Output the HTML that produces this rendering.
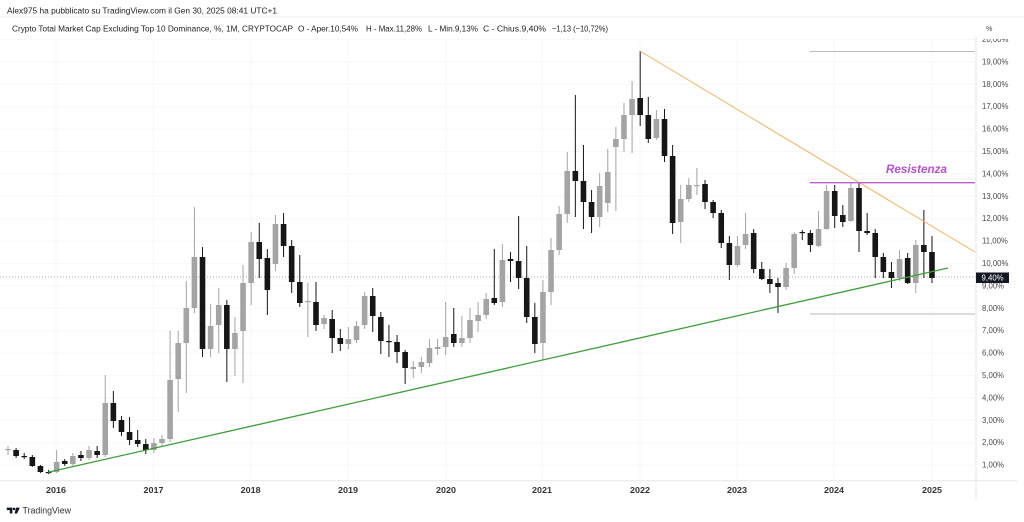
<!DOCTYPE html>
<html><head><meta charset="utf-8"><style>
html,body{margin:0;padding:0;background:#fff;}
svg{display:block;font-family:"Liberation Sans",Arial,sans-serif;}
</style></head><body>
<svg id="c" width="1024" height="522" viewBox="0 0 1024 522" xmlns="http://www.w3.org/2000/svg">
<rect width="1024" height="522" fill="#fff"/>
<!-- header -->
<text x="7" y="10.7" dominant-baseline="central" font-size="8.6" fill="#222" textLength="270" lengthAdjust="spacingAndGlyphs">Alex975 ha pubblicato su TradingView.com il Gen 30, 2025 08:41 UTC+1</text>
<line x1="0" y1="17" x2="1024" y2="17" stroke="#efefef" stroke-width="1"/>
<g font-size="8.6" fill="#222" dominant-baseline="central">
<text x="12" y="28.7" textLength="281" lengthAdjust="spacingAndGlyphs">Crypto Total Market Cap Excluding Top 10 Dominance, %, 1M, CRYPTOCAP</text>
<text x="298" y="28.7" textLength="60" lengthAdjust="spacingAndGlyphs">O - Aper.10,54%</text>
<text x="366" y="28.7" textLength="56" lengthAdjust="spacingAndGlyphs">H - Max.11,28%</text>
<text x="428" y="28.7" textLength="50" lengthAdjust="spacingAndGlyphs">L - Min.9,13%</text>
<text x="483" y="28.7" textLength="63" lengthAdjust="spacingAndGlyphs">C - Chius.9,40%</text>
<text x="552" y="28.7" textLength="56" lengthAdjust="spacingAndGlyphs">−1,13 (−10,72%)</text>
</g>
<!-- grid -->
<g id="grid" stroke="#f7f7f7" stroke-width="1"></g>
<!-- axes frame -->
<line x1="976" y1="37" x2="976" y2="500" stroke="#e6e6e6" stroke-width="1"/>
<line x1="0" y1="480.7" x2="1017" y2="480.7" stroke="#e6e6e6" stroke-width="1"/>
<text x="986" y="28.5" dominant-baseline="central" font-size="7.2" fill="#444">%</text>
<defs><clipPath id="axclip"><rect x="977" y="39" width="47" height="441"/></clipPath></defs>
<g id="yax" font-size="7.8" fill="#4a4a4a" clip-path="url(#axclip)"></g>
<!-- x axis labels -->
<g font-size="8.6" font-weight="bold" fill="#333" text-anchor="middle" dominant-baseline="central">
<text x="56" y="490" textLength="20" lengthAdjust="spacingAndGlyphs">2016</text>
<text x="153.5" y="490" textLength="20" lengthAdjust="spacingAndGlyphs">2017</text>
<text x="250.7" y="490" textLength="20" lengthAdjust="spacingAndGlyphs">2018</text>
<text x="348" y="490" textLength="20" lengthAdjust="spacingAndGlyphs">2019</text>
<text x="446" y="490" textLength="20" lengthAdjust="spacingAndGlyphs">2020</text>
<text x="542" y="490" textLength="20" lengthAdjust="spacingAndGlyphs">2021</text>
<text x="640" y="490" textLength="20" lengthAdjust="spacingAndGlyphs">2022</text>
<text x="737" y="490" textLength="20" lengthAdjust="spacingAndGlyphs">2023</text>
<text x="834" y="490" textLength="20" lengthAdjust="spacingAndGlyphs">2024</text>
<text x="932" y="490" textLength="20" lengthAdjust="spacingAndGlyphs">2025</text>
</g>
<!-- dotted current price line -->
<line x1="0" y1="277" x2="976" y2="277" stroke="#8a8d96" stroke-width="0.8" stroke-dasharray="1,2"/>
<!-- reference gray lines -->
<line x1="810" y1="51.5" x2="975" y2="51.5" stroke="#b9b9b9" stroke-width="1"/>
<line x1="810" y1="314" x2="975" y2="314" stroke="#b9b9b9" stroke-width="1"/>
<!-- candles -->
<g id="candles"></g>
<!-- trendlines -->
<line x1="640" y1="51" x2="975" y2="252" stroke="#f6b060" stroke-width="1"/>
<line x1="48" y1="472.3" x2="948" y2="268" stroke="#3f9e3a" stroke-width="1.3"/>
<line x1="810" y1="182.7" x2="975" y2="182.7" stroke="#c25bd6" stroke-width="1.4"/>
<text x="886" y="169" dominant-baseline="central" font-size="12" font-weight="bold" font-style="italic" fill="#b552cf" textLength="61" lengthAdjust="spacingAndGlyphs">Resistenza</text>
<!-- price label -->
<rect x="976" y="272.5" width="33" height="10.5" fill="#131722"/>
<text x="981.5" y="277.8" dominant-baseline="central" font-size="7.8" fill="#fff">9,40%</text>
<!-- logo -->
<g fill="#131722">
<path d="M6.8 507.6 h5.6 v5.9 h-2.6 v-3.4 h-3 z"/>
<circle cx="14.1" cy="508.9" r="1.3"/>
<path d="M16.2 507.6 h3.6 l-2.7 5.9 h-2.6 z"/>
</g>
<text x="22.5" y="510.7" dominant-baseline="central" font-size="9.2" fill="#333" textLength="48.5" lengthAdjust="spacingAndGlyphs">TradingView</text>
</svg>
<script>
(function(){
var NS="http://www.w3.org/2000/svg";
function el(t,a,p){var e=document.createElementNS(NS,t);for(var k in a)e.setAttribute(k,a[k]);p.appendChild(e);return e;}
var yv=function(v){return 263.5-(v-10)*22.4;};
var yax=document.getElementById('yax'), grid=document.getElementById('grid');
for(var v=20;v>=1;v--){
  var y=yv(v);
  var t=el('text',{x:982,y:y,'dominant-baseline':'central'},yax);
  t.textContent=v+',00%';
  el('line',{x1:0,y1:y,x2:976,y2:y},grid);
}
var yrs=[56,153.5,250.7,348,446,542,640,737,834,932];
yrs.forEach(function(x){el('line',{x1:x,y1:39,x2:x,y2:480},grid);});
var d=[
[450,449,446,455],[450,456,448,458],[456,457,453,459],[457,466,455,467],[466,472,465,473],
[472,472.5,470,474],[472,462,450,473],[461,464,459,466],[464,456,453,466],[455,458,451,461],
[458,450,446,460],[451,455,446,458],[455,403,375,457],[403,421,391,428],[420,432,416,436],
[432,440,417,445],[440,444,430,447],[444,450,439,454],[450,443,438,453],[443,439,435,447],
[439,380,331,442],[379,343,331,412],[343,308,281,393],[308,257,207,313],[257,349,247,357],
[349,326,304,357],[325,305,288,353],[305,349,300,382],[349,333,317,376],[331,283,265,383],
[283,242,232,305],[242,259,223,278],[258,290,249,315],[264,224,215,271],[224,246,213,257],
[246,282,240,293],[282,303,255,307],[302,301,283,337],[302,325,282,331],[324,318,315,329],
[319,338,310,353],[338,344,329,351],[344,339,327,349],[340,326,321,343],[325,296,292,329],
[296,316,288,332],[317,341,312,354],[341,342,325,357],[342,352,335,363],[352,368,350,384],
[369,367,361,378],[367,362,357,373],[363,348,339,367],[349,347,339,355],[347,337,302,355],
[334,343,308,347],[343,338,316,347],[338,320,308,343],[321,315,302,332],[315,299,293,319],
[298,303,249,305],[302,260,244,307],[259,261,252,282],[261,278,216,289],[278,317,246,323],
[317,344,303,353],[343,292,280,360],[292,250,238,305],[250,214,206,255],[214,171,152,223],
[171,181,95,217],[181,202,145,229],[202,217,190,233],[217,186,173,227],[203,172,149,212],
[147,139,127,211],[139,115,103,152],[115,99,81,153],[98,115,51,126],[115,139,97,143],
[138,119,110,140],[119,156,109,162],[156,223,145,234],[222,199,185,243],[199,185,178,202],
[186,185,168,195],[184,202,180,209],[202,213,200,218],[213,243,210,248],[243,265,236,280],
[265,246,236,267],[245,234,213,249],[233,269,229,273],[269,279,262,280],[279,284,269,293],
[283,287,278,313],[287,268,263,290],[268,234,232,274],[232,233,230,240],[233,245,230,252],
[246,229,211,247],[229,191,185,230],[191,216,185,228],[215,222,205,227],[221,188,183,222],
[188,231,183,252],[231,233,213,235],[233,257,229,278],[257,272,253,278],[272,278,262,288],
[278,259,250,281],[258,283,253,284],[283,245,240,293],[245,252,210,278],[252,278,236,283]
];
var g=document.getElementById('candles');
d.forEach(function(c,i){
  var x=8+8.105*i, o=c[0], cl=c[1], h=c[2], l=c[3];
  var up=cl<o;
  var col=up?'#a4a4a4':'#161616';
  el('line',{x1:x,y1:h,x2:x,y2:l,stroke:col,'stroke-width':1},g);
  var top=Math.min(o,cl), ht=Math.max(Math.abs(o-cl),1.2);
  el('rect',{x:x-2.8,y:top,width:5.6,height:ht,fill:col},g);
});
})();
</script>
</body></html>
